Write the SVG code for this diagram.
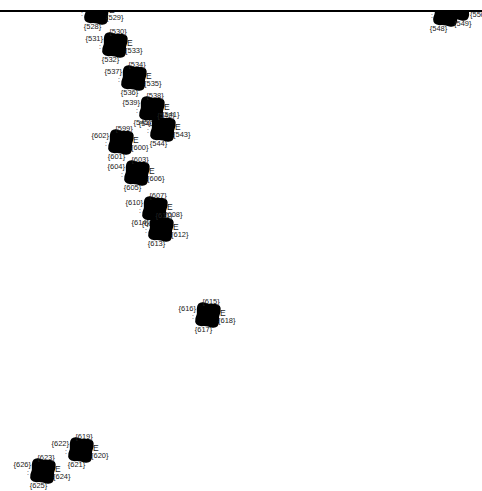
<svg xmlns="http://www.w3.org/2000/svg" xmlns:xlink="http://www.w3.org/1999/xlink" width="482" height="491" viewBox="0 0 482 491">
<style>
.lb{font-family:"Liberation Sans",Arial,sans-serif;font-size:7.5px;fill:#222}
.t{text-anchor:middle}
.l{text-anchor:end}
.e{font-family:"Liberation Sans",Arial,sans-serif;font-size:8.5px;fill:#222}
.d{font-family:"Liberation Sans",Arial,sans-serif;font-size:7px;fill:#222;text-anchor:middle}
</style>
<defs>
<path id="blob" d="M-5,-12 Q0,-10.5 5,-12 Q12.5,-12.5 12,-5 Q10.5,0 12,5 Q12.5,12.5 5,12 Q0,10.5 -5,12 Q-12.5,12.5 -12,5 Q-10.5,0 -12,-5 Q-12.5,-12.5 -5,-12 Z" fill="#000" transform="rotate(8)"/>
<clipPath id="clip"><rect x="0" y="11" width="482" height="480"/></clipPath>
</defs>
<rect width="482" height="491" fill="#fff"/>
<g clip-path="url(#clip)">
<g id="n1" transform="translate(97,12)"><use xlink:href="#blob"/><text class="e" x="12" y="1">E</text><text class="d" x="-15" y="4">:</text><text class="lb t" x="-4.5" y="17">{528}</text><text class="lb" x="9" y="8">{529}</text></g>
<g id="n2" transform="translate(115,45)"><use xlink:href="#blob"/><text class="e" x="12" y="1">E</text><text class="d" x="-15" y="4">:</text><text class="lb t" x="3" y="-11">{530}</text><text class="lb l" x="-12" y="-4">{531}</text><text class="lb t" x="-4.5" y="17">{532}</text><text class="lb" x="10" y="8">{533}</text></g>
<g id="n3" transform="translate(134,78)"><use xlink:href="#blob"/><text class="e" x="12" y="1">E</text><text class="d" x="-15" y="4">:</text><text class="lb t" x="3" y="-11">{534}</text><text class="lb l" x="-12" y="-4">{537}</text><text class="lb t" x="-4.5" y="17">{536}</text><text class="lb" x="10" y="8">{535}</text></g>
<g id="n4" transform="translate(152,109)"><use xlink:href="#blob"/><text class="e" x="12" y="1">E</text><text class="d" x="-15" y="4">:</text><text class="lb t" x="3" y="-11">{538}</text><text class="lb l" x="-12" y="-4">{539}</text><text class="lb t" x="-4.5" y="17">{540}</text><text class="lb" x="10" y="8">{541}</text></g>
<g id="n5" transform="translate(163,129)"><use xlink:href="#blob"/><text class="e" x="12" y="1">E</text><text class="d" x="-15" y="4">:</text><text class="lb t" x="3" y="-11">{542}</text><text class="lb l" x="-12" y="-4">{545}</text><text class="lb t" x="-4.5" y="17">{544}</text><text class="lb" x="10" y="8">{543}</text></g>
<g id="n6" transform="translate(121,142)"><use xlink:href="#blob"/><text class="e" x="12" y="1">E</text><text class="d" x="-15" y="4">:</text><text class="lb t" x="3" y="-11">{599}</text><text class="lb l" x="-12" y="-4">{602}</text><text class="lb t" x="-4.5" y="17">{601}</text><text class="lb" x="10" y="8">{600}</text></g>
<g id="n7" transform="translate(137,173)"><use xlink:href="#blob"/><text class="e" x="12" y="1">E</text><text class="d" x="-15" y="4">:</text><text class="lb t" x="3" y="-11">{603}</text><text class="lb l" x="-12" y="-4">{604}</text><text class="lb t" x="-4.5" y="17">{605}</text><text class="lb" x="10" y="8">{606}</text></g>
<g id="n8" transform="translate(155,209)"><use xlink:href="#blob"/><text class="e" x="12" y="1">E</text><text class="d" x="-15" y="4">:</text><text class="lb t" x="3" y="-11">{607}</text><text class="lb l" x="-12" y="-4">{610}</text><text class="lb t" x="-4.5" y="17">{609}</text><text class="lb" x="10" y="8">{608}</text></g>
<g id="n9" transform="translate(161,229)"><use xlink:href="#blob"/><text class="e" x="12" y="1">E</text><text class="d" x="-15" y="4">:</text><text class="lb t" x="3" y="-11">{611}</text><text class="lb l" x="-12" y="-4">{614}</text><text class="lb t" x="-4.5" y="17">{613}</text><text class="lb" x="10" y="8">{612}</text></g>
<g id="n10" transform="translate(208,315)"><use xlink:href="#blob"/><text class="e" x="12" y="1">E</text><text class="d" x="-15" y="4">:</text><text class="lb t" x="3" y="-11">{615}</text><text class="lb l" x="-12" y="-4">{616}</text><text class="lb t" x="-4.5" y="17">{617}</text><text class="lb" x="10" y="8">{618}</text></g>
<g id="n11" transform="translate(81,450)"><use xlink:href="#blob"/><text class="e" x="12" y="1">E</text><text class="d" x="-15" y="4">:</text><text class="lb t" x="3" y="-11">{619}</text><text class="lb l" x="-12" y="-4">{622}</text><text class="lb t" x="-4.5" y="17">{621}</text><text class="lb" x="10" y="8">{620}</text></g>
<g id="n12" transform="translate(43,471)"><use xlink:href="#blob"/><text class="e" x="12" y="1">E</text><text class="d" x="-15" y="4">:</text><text class="lb t" x="3" y="-11">{623}</text><text class="lb l" x="-12" y="-4">{626}</text><text class="lb t" x="-4.5" y="17">{625}</text><text class="lb" x="10" y="8">{624}</text></g>
<g id="n13" transform="translate(446,14)"><use xlink:href="#blob"/><text class="d" x="-14" y="4">:</text><text class="lb t" x="-7.5" y="17">{548}</text><text class="lb" x="8" y="12">{549}</text></g>
<g id="n14" transform="translate(458,8)"><use xlink:href="#blob"/><text class="lb" x="12" y="9">{550}</text></g>
</g>
<g id="connectors">
<line x1="0" y1="11" x2="482" y2="11" stroke="#000" stroke-width="2"/>
</g>
</svg>
